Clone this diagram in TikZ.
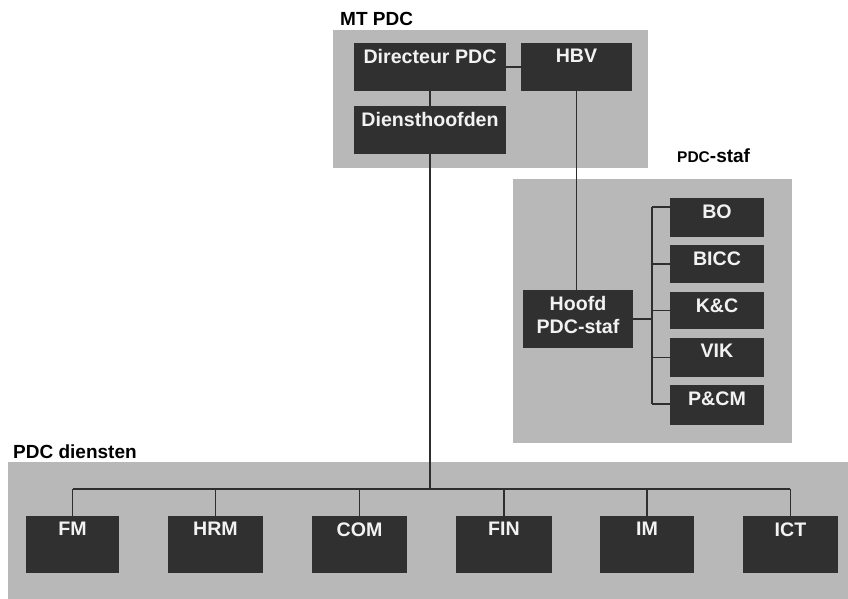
\documentclass[tikz,border=0pt]{standalone}
\usepackage{fontspec}
\setmainfont{Liberation Sans}
\usetikzlibrary{calc}
\definecolor{panelgray}{HTML}{B8B8B8}
\definecolor{boxdark}{HTML}{303030}
\definecolor{linedark}{HTML}{2E2E2E}
\definecolor{txtlight}{HTML}{F2F2F2}
\tikzset{
  panel/.style={fill=panelgray, draw=none},
  darkbox/.style={fill=boxdark, draw=none, inner sep=0pt},
  boxtext/.style={text=txtlight, font=\fontsize{19.6}{23}\selectfont\bfseries, align=center, inner sep=0pt, anchor=north},
  headtext/.style={text=black, font=\fontsize{19}{23}\selectfont\bfseries, inner sep=0pt},
  conn/.style={draw=linedark, line width=1.3pt}
}
\newcommand{\orgbox}[6]{%
  \node[darkbox, minimum width={(#4-#2)*1pt}, minimum height={(#5-#3)*1pt}] (#1) at ({(#2+#4)/2},{(#3+#5)/2}) {};
  \node[boxtext] (#1-t) at ($(#1.north)+(0,6.5)$) {#6};
}
\begin{document}
\begin{tikzpicture}[x=1pt,y=-1pt]
\useasboundingbox (0,0) rectangle (848,599);
% panels
\path[panel] (333,30) rectangle (648,168);
\path[panel] (513,179) rectangle (792,443);
\path[panel] (8,462) rectangle (848,599);
% panel labels
\node[headtext, anchor=base west] (mtlabel) at (340,26) {MT PDC};
\node[headtext, anchor=base west] (staflabel) at (677,162) {{\fontsize{15.5}{17}\selectfont PDC}-staf};
\node[headtext, anchor=base west] (dienstlabel) at (13,458) {PDC diensten};
% MT boxes
\orgbox{dir}{354}{43}{506}{91}{Directeur PDC}
\orgbox{hbv}{521}{43}{632}{91}{HBV}
\orgbox{dh}{354}{106}{506}{154}{Diensthoofden}
% staf
\orgbox{hoofd}{523}{290}{633}{348}{Hoofd\\PDC-staf}
\orgbox{bo}{670}{198}{764}{237}{BO}
\orgbox{bicc}{670}{245}{764}{283}{BICC}
\orgbox{kc}{670}{292}{764}{329}{K\&C}
\orgbox{vik}{670}{338}{764}{377}{VIK}
\orgbox{pcm}{670}{385}{764}{425}{P\&CM}
% diensten
\orgbox{fm}{26}{516}{119}{573}{FM}
\orgbox{hrm}{168}{516}{263}{573}{HRM}
\orgbox{com}{312}{516}{407}{573}{COM}
\orgbox{fin}{456}{516}{552}{573}{FIN}
\orgbox{im}{600}{516}{694}{573}{IM}
\orgbox{ict}{743}{516}{838}{573}{ICT}
% coordinates
\coordinate (busL) at (73,489);
\coordinate (busR) at (790,489);
\coordinate (busM) at (430,489);
\coordinate (sbT) at (652,207);
\coordinate (sbB) at (652,404);
% connectors MT
\draw[conn] (dir.east) -- (hbv.west);
\draw[conn] (dir.south) -- (dh.north);
\draw[conn] (dh.south) -- (busM);
\draw[conn] (hbv.south) -- (hbv.south |- hoofd.north);
% staf connectors
\draw[conn] (hoofd.east) -- (hoofd.east -| sbT);
\draw[conn] (sbT) -- (sbB);
\draw[conn] (sbT) -- (sbT -| bo.west);
\draw[conn] (sbT |- bicc.west) -- (bicc.west);
\draw[conn] (sbT |- kc.west) -- (kc.west);
\draw[conn] (sbT |- vik.west) -- (vik.west);
\draw[conn] (sbB) -- (sbB -| pcm.west);
% diensten connectors
\draw[conn] (busL) -- (busR);
\draw[conn] (busL -| fm.north) -- (fm.north);
\draw[conn] (busL -| hrm.north) -- (hrm.north);
\draw[conn] (busL -| com.north) -- (com.north);
\draw[conn] (busL -| fin.north) -- (fin.north);
\draw[conn] (busL -| im.north) -- (im.north);
\draw[conn] (busL -| ict.north) -- (ict.north);
\end{tikzpicture}
\end{document}
